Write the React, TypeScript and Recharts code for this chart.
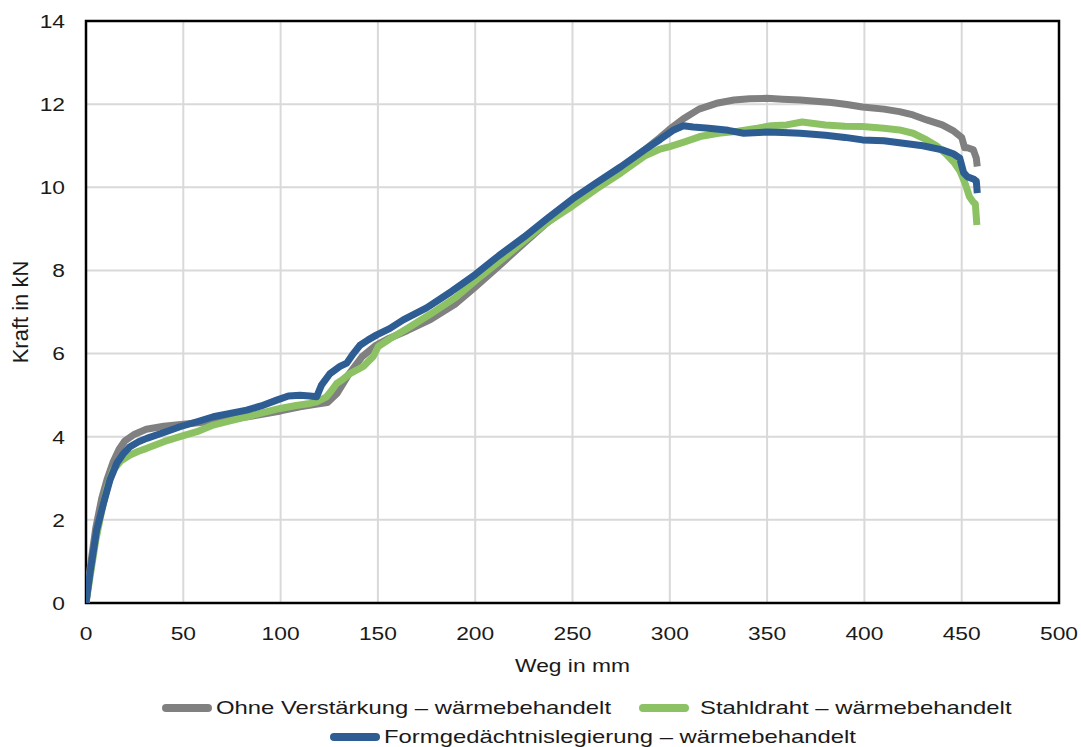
import React from 'react';
import {
  LineChart,
  Line,
  XAxis,
  YAxis,
  CartesianGrid,
  ReferenceArea,
} from 'recharts';

// Weg in mm / Kraft in kN
const ohneX = [0, 2, 5, 8, 11, 14, 17, 20, 25, 31, 40, 50, 60, 70, 83, 92, 100, 110, 118, 124, 129, 135, 142, 149, 155, 165, 177, 190, 200, 212, 225, 237, 250, 262, 275, 287, 295, 300, 307, 315, 324, 333, 341, 350, 358, 367, 375, 383, 391, 399, 410, 418, 425, 432, 440, 446, 450, 451.5, 453, 456, 457.5, 458];
const ohneY = [0, 0.8, 1.8, 2.5, 3.0, 3.4, 3.7, 3.9, 4.06, 4.18, 4.25, 4.3, 4.35, 4.4, 4.48, 4.55, 4.62, 4.72, 4.78, 4.82, 5.04, 5.5, 5.93, 6.2, 6.35, 6.55, 6.82, 7.2, 7.6, 8.1, 8.65, 9.15, 9.6, 10.0, 10.45, 10.9, 11.2, 11.4, 11.65, 11.88, 12.02, 12.1, 12.13, 12.14, 12.12, 12.1, 12.07, 12.04, 11.99, 11.93, 11.88, 11.82, 11.74, 11.62, 11.5, 11.35, 11.2, 10.95, 10.95, 10.9, 10.7, 10.5];

const stahlX = [0, 2, 5, 8, 11, 14, 18, 22.6, 27, 31.2, 40, 48.3, 57, 65.4, 74, 82.6, 91, 99.7, 108, 115, 118.5, 123.6, 126, 128.8, 132, 135.7, 139, 142.5, 147.6, 150.2, 156, 165, 177, 190, 200, 212, 225, 237, 250, 262, 275, 287, 295, 300, 308, 315.5, 325, 335, 345, 352, 360, 368, 380, 390, 399, 410, 418, 425, 432, 437, 442, 446, 449, 451.7, 454, 455.8, 457, 457.8];
const stahlY = [0, 0.6, 1.5, 2.2, 2.8, 3.2, 3.42, 3.56, 3.65, 3.72, 3.88, 4.0, 4.12, 4.28, 4.38, 4.48, 4.58, 4.68, 4.75, 4.8, 4.84, 4.96, 5.1, 5.28, 5.38, 5.52, 5.6, 5.69, 5.93, 6.17, 6.35, 6.6, 6.95, 7.35, 7.75, 8.2, 8.7, 9.15, 9.55, 9.95, 10.35, 10.75, 10.92, 10.98, 11.1, 11.22, 11.3, 11.35, 11.42, 11.48, 11.5, 11.57, 11.5, 11.47, 11.46, 11.42, 11.38, 11.3, 11.14, 11.0, 10.8, 10.6, 10.4, 10.1, 9.77, 9.65, 9.6, 9.09];

const formX = [0, 2, 5.5, 9, 12.3, 15.8, 19, 22.6, 27, 31.2, 40, 48.3, 57, 65.4, 74, 82.6, 90, 98, 104, 110, 115, 118.5, 121, 125.4, 130.5, 134, 137.4, 140.8, 145, 149.4, 156, 163, 175, 188, 200, 212, 225, 237, 250, 262, 275, 287, 295, 302, 307, 312, 320, 330, 338, 350, 358, 367, 380, 390, 399, 410, 420, 430, 440, 446, 449, 451, 453, 456, 457.5, 458];
const formY = [0, 0.7, 1.76, 2.4, 2.96, 3.36, 3.58, 3.76, 3.88, 3.96, 4.1, 4.24, 4.36, 4.48, 4.56, 4.64, 4.74, 4.88, 4.98, 5.0, 4.98, 4.96, 5.24, 5.52, 5.69, 5.77, 6.0, 6.2, 6.33, 6.45, 6.6, 6.81, 7.1, 7.5, 7.9, 8.35, 8.8, 9.25, 9.72, 10.1, 10.5, 10.9, 11.15, 11.38, 11.48, 11.45, 11.42, 11.37, 11.3, 11.33, 11.32, 11.3, 11.25, 11.2, 11.14, 11.12, 11.06, 11.0, 10.9, 10.8, 10.7, 10.35, 10.25, 10.2, 10.15, 9.86];

const xTicks = [0, 50, 100, 150, 200, 250, 300, 350, 400, 450, 500];
const yTicks = [0, 2, 4, 6, 8, 10, 12, 14];

const toPoints = (xs: number[], ys: number[]) => xs.map((x, i) => ({ x, y: ys[i] }));
const ohneData = toPoints(ohneX, ohneY);
const stahlData = toPoints(stahlX, stahlY);
const formData = toPoints(formX, formY);

const FONT = '"Liberation Sans", Arial, sans-serif';
const TEXT = '#1a1a1a';
const GRAY = '#808080';
const GREEN = '#8cc264';
const BLUE = '#2e5d94';

const XTick = ({ x, y, payload }: any) => (
  <text
    transform={`translate(${x},${y + 37}) scale(1.2,1)`}
    textAnchor="middle"
    fontSize={19}
    fontFamily={FONT}
    fill={TEXT}
  >
    {payload.value}
  </text>
);

const YTick = ({ x, y, payload }: any) => (
  <text
    transform={`translate(${x - 21},${y}) scale(1.2,1)`}
    textAnchor="end"
    dominantBaseline="central"
    fontSize={19}
    fontFamily={FONT}
    fill={TEXT}
  >
    {payload.value}
  </text>
);

const legendItems = [
  { name: 'Ohne Verstärkung – wärmebehandelt', color: GRAY, swatch: 162, text: 216, top: 708 },
  { name: 'Stahldraht – wärmebehandelt', color: GREEN, swatch: 639, text: 700, top: 708 },
  { name: 'Formgedächtnislegierung – wärmebehandelt', color: BLUE, swatch: 330, text: 384, top: 737 },
];

export default function App() {
  return (
    <div style={{ position: 'absolute', left: 0, top: 0, width: 1081, height: 747, background: '#fff', overflow: 'hidden' }}>
      <LineChart width={1081} height={747} margin={{ top: 21, right: 22, bottom: 74, left: 0 }}>
        <CartesianGrid stroke="#d9d9d9" strokeWidth={2} />
        <XAxis
          dataKey="x"
          type="number"
          domain={[0, 500]}
          ticks={xTicks}
          allowDataOverflow
          height={70}
          tickSize={0}
          tickMargin={0}
          axisLine={false}
          tickLine={false}
          tick={<XTick />}
          label={{
            content: (props: any) => {
              const vb = props.viewBox;
              return (
                <text
                  transform={`translate(${vb.x + vb.width / 2},${vb.y + 69}) scale(1.2,1)`}
                  textAnchor="middle"
                  fontSize={19}
                  fontFamily={FONT}
                  fill={TEXT}
                >
                  Weg in mm
                </text>
              );
            },
          }}
        />
        <YAxis
          type="number"
          domain={[0, 14]}
          ticks={yTicks}
          allowDataOverflow
          width={86}
          tickSize={0}
          tickMargin={0}
          axisLine={false}
          tickLine={false}
          tick={<YTick />}
          label={{
            content: (props: any) => {
              const vb = props.viewBox;
              const cy = vb.y + vb.height / 2;
              return (
                <text
                  transform={`translate(20,${cy}) rotate(-90)`}
                  textAnchor="middle"
                  dominantBaseline="central"
                  fontSize={22}
                  fontFamily={FONT}
                  fill={TEXT}
                >
                  Kraft in kN
                </text>
              );
            },
          }}
        />
        <ReferenceArea x1={0} x2={500} y1={0} y2={14} fill="none" stroke="#000" strokeWidth={2.5} />
        <Line data={ohneData} dataKey="y" type="linear" stroke={GRAY} strokeWidth={7} dot={false} strokeLinejoin="round" isAnimationActive={false} />
        <Line data={stahlData} dataKey="y" type="linear" stroke={GREEN} strokeWidth={7} dot={false} strokeLinejoin="round" isAnimationActive={false} />
        <Line data={formData} dataKey="y" type="linear" stroke={BLUE} strokeWidth={7} dot={false} strokeLinejoin="round" isAnimationActive={false} />
      </LineChart>
      {legendItems.map((item) => (
        <React.Fragment key={item.name}>
          <span
            style={{
              position: 'absolute',
              left: item.swatch,
              top: item.top - 4,
              width: 50,
              height: 8,
              borderRadius: 4,
              background: item.color,
            }}
          />
          <span
            style={{
              position: 'absolute',
              left: item.text,
              top: item.top - 12,
              height: 24,
              lineHeight: '24px',
              whiteSpace: 'nowrap',
              fontFamily: FONT,
              fontSize: 19,
              color: TEXT,
              transform: 'scaleX(1.255)',
              transformOrigin: 'left center',
            }}
          >
            {item.name}
          </span>
        </React.Fragment>
      ))}
    </div>
  );
}
